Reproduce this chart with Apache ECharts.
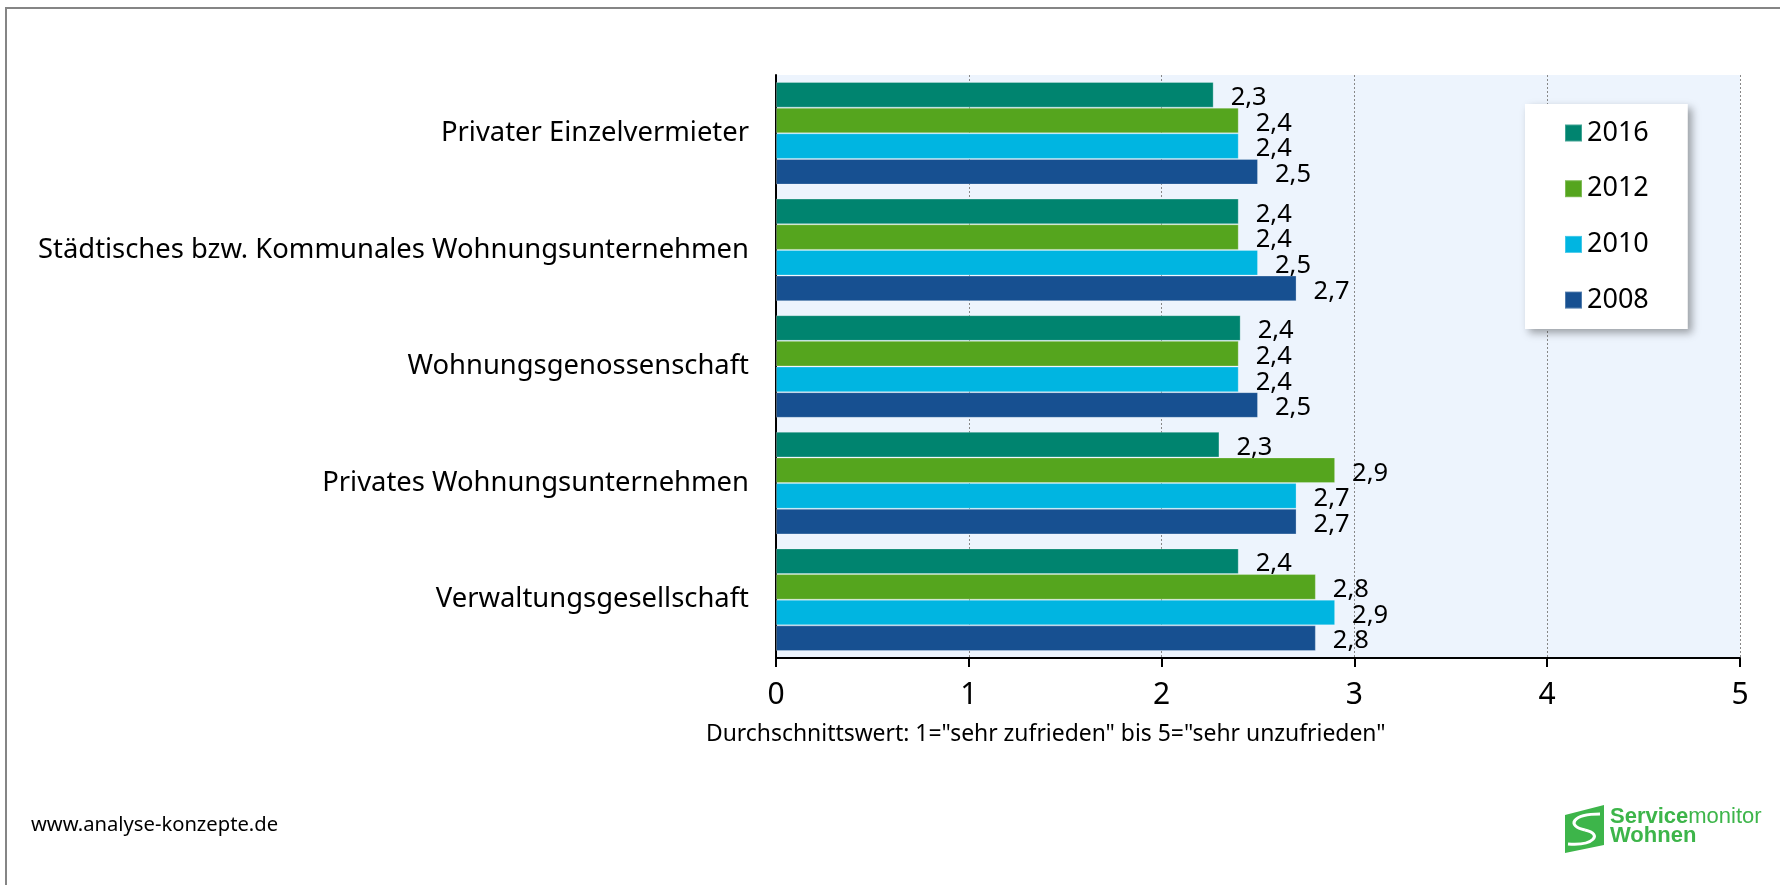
<!DOCTYPE html>
<html>
<head>
<meta charset="utf-8">
<script src="https://cdn.jsdelivr.net/npm/echarts@6/dist/echarts.min.js"></script>
<style>
html,body{margin:0;padding:0;background:#fff;}
#chart{width:1780px;height:885px;}
</style>
</head>
<body>
<div id="chart"></div>
<script>
const categories = ['Privater Einzelvermieter', 'Städtisches bzw. Kommunales Wohnungsunternehmen', 'Wohnungsgenossenschaft', 'Privates Wohnungsunternehmen', 'Verwaltungsgesellschaft'];
const years = ['2016', '2012', '2010', '2008'];
const v2016 = [2.27, 2.40, 2.41, 2.30, 2.40];
const v2012 = [2.40, 2.40, 2.40, 2.90, 2.80];
const v2010 = [2.40, 2.50, 2.40, 2.70, 2.90];
const v2008 = [2.50, 2.70, 2.50, 2.70, 2.80];
const colors = ['#00846F', '#55A51E', '#00B5E1', '#175091'];
const axisName = 'Durchschnittswert: 1="sehr zufrieden" bis 5="sehr unzufrieden"';
const footer = 'www.analyse-konzepte.de';

const seriesValues = [v2016, v2012, v2010, v2008];
const FONT = '"Noto Sans", "DejaVu Sans", sans-serif';

const chart = echarts.init(document.getElementById('chart'), null, {renderer: 'canvas'});

const series = years.map((y, i) => ({
  name: y,
  type: 'bar',
  data: seriesValues[i],
  barGap: '0%',
  barCategoryGap: '12%',
  itemStyle: {color: colors[i], borderColor: 'rgba(255,255,255,0.25)', borderWidth: 1},
  label: {
    show: true,
    position: 'right',
    distance: 17,
    offset: [0, 3],
    color: '#000',
    fontSize: 25.5,
    fontFamily: FONT,
    formatter: p => p.value.toFixed(1).replace('.', ',')
  },
  emphasis: {disabled: true}
}));

const logoGreen = '#3DB54A';

chart.setOption({
  animation: false,
  textStyle: {fontFamily: FONT},
  grid: {
    left: 776, right: 40, top: 75, bottom: 227,
    show: true, backgroundColor: '#EDF4FD', borderWidth: 0,
    containLabel: false
  },
  xAxis: {
    type: 'value', min: 0, max: 5, interval: 1,
    axisLine: {show: true, lineStyle: {color: '#000', width: 2}},
    axisTick: {show: true, length: 9, lineStyle: {color: '#000', width: 2}},
    axisLabel: {color: '#000', fontSize: 30, margin: 22, fontFamily: FONT},
    splitLine: {show: true, lineStyle: {color: '#888', type: [2, 2], width: 1}}
  },
  yAxis: {
    type: 'category', inverse: true, data: categories,
    axisLine: {show: true, lineStyle: {color: '#000', width: 2}},
    axisTick: {show: false},
    axisLabel: {color: '#000', fontSize: 27.4, margin: 27, fontFamily: FONT},
    splitLine: {show: false}
  },
  legend: {
    orient: 'vertical',
    left: 1525, top: 104,
    data: years,
    icon: 'rect',
    itemWidth: 17, itemHeight: 17,
    itemGap: 27.7,
    padding: [15, 39, 15, 39],
    backgroundColor: '#fff',
    borderWidth: 0,
    shadowBlur: 8, shadowOffsetX: 4, shadowOffsetY: 4, shadowColor: 'rgba(0,0,0,0.35)',
    textStyle: {color: '#000', fontSize: 27, lineHeight: 28, fontFamily: FONT},
    selectedMode: false
  },
  graphic: [
    {type: 'line', shape: {x1: 5, y1: 8, x2: 1780, y2: 8}, style: {stroke: '#858585', lineWidth: 2}},
    {type: 'line', shape: {x1: 6, y1: 7, x2: 6, y2: 885}, style: {stroke: '#858585', lineWidth: 2}},
    {type: 'text', left: 706, top: 723, style: {text: axisName, fontSize: 22.9, fontFamily: FONT, fill: '#000'}},
    {type: 'text', left: 31, top: 815, style: {text: footer, fontSize: 20.2, fontFamily: FONT, fill: '#000'}},
    {type: 'polygon', shape: {points: [[1565, 815], [1604, 805], [1604, 845], [1565, 853]]}, style: {fill: logoGreen}},
    {type: 'bezierCurve', shape: {x1: 1600, y1: 814, cpx1: 1572, cpy1: 814, cpx2: 1566, cpy2: 826, x2: 1585, y2: 830}, style: {stroke: '#fff', lineWidth: 3, fill: null}},
    {type: 'bezierCurve', shape: {x1: 1585, y1: 830, cpx1: 1603, cpy1: 834, cpx2: 1594, cpy2: 846, x2: 1568, y2: 844}, style: {stroke: '#fff', lineWidth: 3, fill: null}},
    {type: 'text', left: 1610, top: 806, style: {
      text: '{b|Service}{l|monitor}',
      rich: {
        b: {fontSize: 22, fontWeight: 'bold', fontFamily: '"Liberation Sans", Arial, sans-serif', fill: logoGreen, color: logoGreen},
        l: {fontSize: 22, fontWeight: 'normal', fontFamily: '"Liberation Sans", Arial, sans-serif', fill: logoGreen, color: logoGreen}
      }
    }},
    {type: 'text', left: 1610, top: 825, style: {text: 'Wohnen', fontSize: 22, fontWeight: 'bold', fontFamily: '"Liberation Sans", Arial, sans-serif', fill: logoGreen}}
  ],
  series: series
});
</script>
</body>
</html>
